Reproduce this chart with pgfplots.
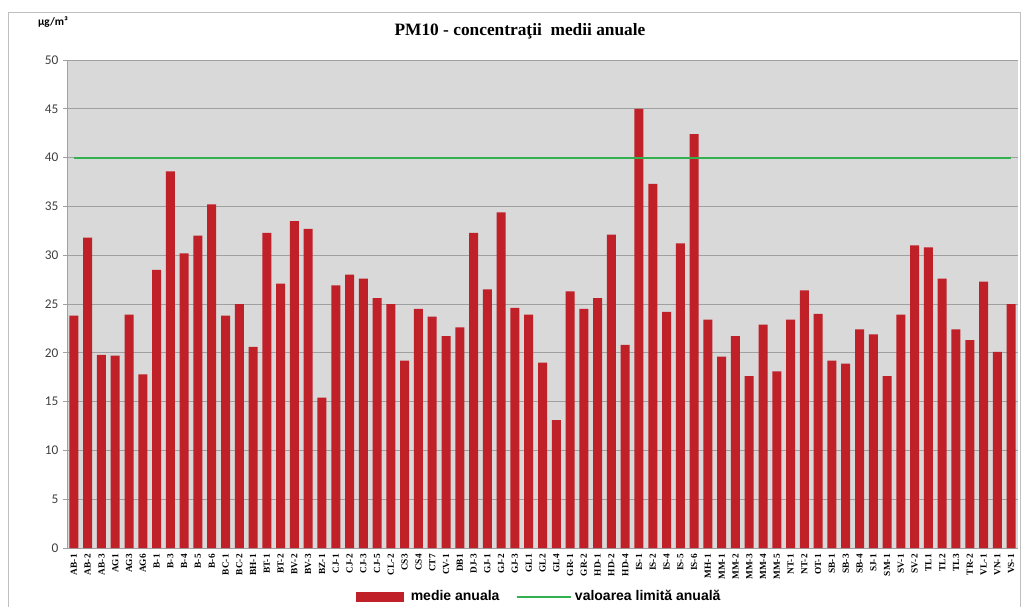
\documentclass[border=0pt]{standalone}
\usepackage{fontspec}
\setmainfont{Liberation Serif}
\newfontfamily\carlito{Carlito}
\newfontfamily\arialf{Liberation Sans}
\usepackage{pgfplots}
\pgfplotsset{compat=1.18}

\definecolor{barred}{RGB}{192,32,40}
\definecolor{limgreen}{RGB}{51,176,80}
\definecolor{plotbg}{RGB}{217,217,217}
\definecolor{gridc}{RGB}{160,160,160}

\begin{document}
\begin{tikzpicture}
% picture frame: 1 px of the reference = 0.75pt
\useasboundingbox (0,0) rectangle (768.75pt,-455.25pt);
\draw[black!25, line width=0.75pt] (6pt,-460pt) -- (6pt,-9pt) -- (765pt,-9pt) -- (765pt,-460pt);
\node[anchor=west, font=\carlito\bfseries\fontsize{8.5}{9}\selectfont] at (25pt,-16.5pt) {µg/m³};
\node[font=\bfseries\fontsize{13}{15}\selectfont] at (390pt,-23.5pt) {PM10 - concentraţii\ \ medii anuale};
\begin{axis}[
    at={(50.25pt,-411pt)}, anchor=south west,
    scale only axis,
    width=713.25pt, height=366pt,
    xmin=-0.5, xmax=68.5,
    ymin=0, ymax=50,
    ytick={0,5,...,50},
    xtick={0,...,68},
    xticklabels={AB-1,AB-2,AB-3,AG1,AG3,AG6,B-1,B-3,B-4,B-5,B-6,BC-1,BC-2,BH-1,BT-1,BT-2,BV-2,BV-3,BZ-1,CJ-1,CJ-2,CJ-3,CJ-5,CL-2,CS3,CS4,CT7,CV-1,DB1,DJ-3,GJ-1,GJ-2,GJ-3,GL1,GL2,GL4,GR-1,GR-2,HD-1,HD-2,HD-4,IS-1,IS-2,IS-4,IS-5,IS-6,MH-1,MM-1,MM-2,MM-3,MM-4,MM-5,NT-1,NT-2,OT-1,SB-1,SB-3,SB-4,SJ-1,SM-1,SV-1,SV-2,TL1,TL2,TL3,TR-2,VL-1,VN-1,VS-1},
    x tick label style={rotate=90, anchor=east, font=\bfseries\fontsize{7}{7}\selectfont, inner sep=1.5pt},
    y tick label style={font=\carlito\fontsize{10}{12}\selectfont, text=black!75},
    /pgf/number format/assume math mode=true,
    axis x line*=bottom, axis y line*=left,
    axis line style={gridc, line width=0.75pt, -},
    major x tick style={draw=none},
    major y tick style={gridc, line width=0.75pt},
    tick align=outside,
    major tick length=3pt,
    ymajorgrids,
    major grid style={gridc, line width=0.75pt},
    axis background/.style={fill=plotbg},
    legend columns=2,
    legend style={at={(0.497,-0.100)}, anchor=center, draw=none, fill=none,
        font=\arialf\bfseries\fontsize{10.5}{12}\selectfont,
        /tikz/every even column/.append style={column sep=10pt}},
]
\addplot[ybar, bar width=6.75pt, fill=barred, draw=none,
    legend image code/.code={\fill[barred] (0pt,-3.75pt) rectangle (36pt,3.75pt);}]
coordinates {
(0,23.8) (1,31.8) (2,19.8) (3,19.7) (4,23.9) (5,17.8) (6,28.5) (7,38.6) (8,30.2) (9,32.0)
(10,35.2) (11,23.8) (12,25.0) (13,20.6) (14,32.3) (15,27.1) (16,33.5) (17,32.7) (18,15.4) (19,26.9)
(20,28.0) (21,27.6) (22,25.6) (23,25.0) (24,19.2) (25,24.5) (26,23.7) (27,21.7) (28,22.6) (29,32.3)
(30,26.5) (31,34.4) (32,24.6) (33,23.9) (34,19.0) (35,13.1) (36,26.3) (37,24.5) (38,25.6) (39,32.1)
(40,20.8) (41,45.0) (42,37.3) (43,24.2) (44,31.2) (45,42.4) (46,23.4) (47,19.6) (48,21.7) (49,17.6)
(50,22.9) (51,18.1) (52,23.4) (53,26.4) (54,24.0) (55,19.2) (56,18.9) (57,22.4) (58,21.9) (59,17.6)
(60,23.9) (61,31.0) (62,30.8) (63,27.6) (64,22.4) (65,21.3) (66,27.3) (67,20.1) (68,25.0)
};
\addlegendentry{\hspace{3pt}medie anuala}
\addplot[limgreen, line width=1.6pt, mark=none,
    legend image code/.code={\draw[limgreen, line width=1.6pt] (0pt,0pt) -- (41pt,0pt);}]
coordinates {(0,40) (68,40)};
\addlegendentry{valoarea limită anuală}
\end{axis}
\end{tikzpicture}
\end{document}
